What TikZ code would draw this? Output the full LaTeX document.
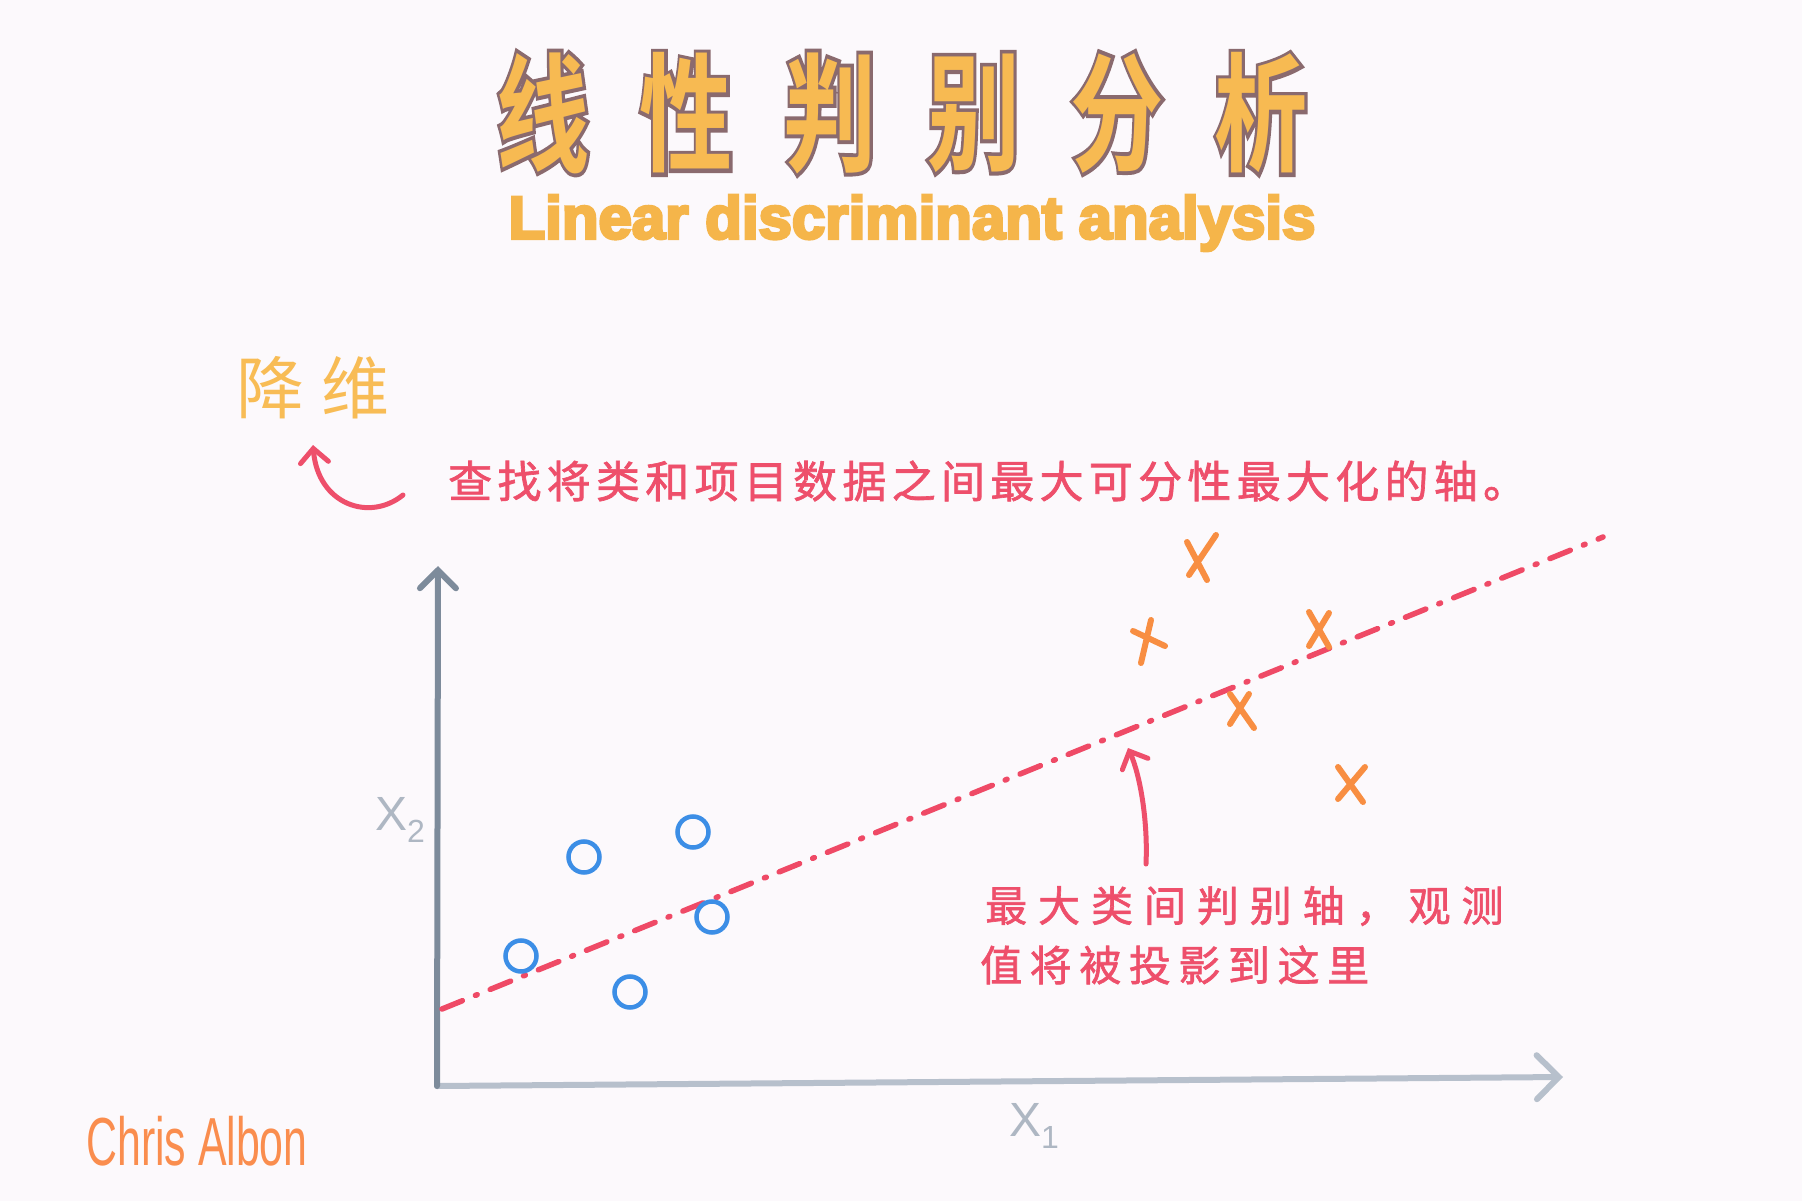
\documentclass[tikz,border=0pt]{standalone}
\usepackage{fontspec}
\setmainfont{Liberation Sans}
\newfontfamily\cjk{Noto Sans CJK SC}
\newfontfamily\cjkr{Noto Sans CJK SC}[RawFeature={embolden=1.5}]
\newfontfamily\titlefill{Noto Sans CJK SC Bold}
\newfontfamily\titleline{Noto Sans CJK SC Bold}[RawFeature={embolden=6}]
\newfontfamily\subfont{Liberation Sans Bold}[RawFeature={embolden=5}]
\usetikzlibrary{arrows.meta}
\definecolor{bgc}{HTML}{FCF9FC}
\definecolor{titlefillc}{HTML}{F7BA52}
\definecolor{titlelinec}{HTML}{8A6A6E}
\definecolor{subc}{HTML}{F5B54A}
\definecolor{dimc}{HTML}{F8BC55}
\definecolor{redc}{HTML}{EE4F6B}
\definecolor{linec}{HTML}{EF4A66}
\definecolor{bluec}{HTML}{3C8EE6}
\definecolor{orangec}{HTML}{F88E42}
\definecolor{axisv}{HTML}{7D8B9B}
\definecolor{axish}{HTML}{B7C0CC}
\definecolor{labc}{HTML}{AEB7C3}
\definecolor{signc}{HTML}{FA8D4E}
\tikzset{
  titleout/.style={inner sep=0pt, text=titlelinec, font=\titleline\fontsize{126}{130}\selectfont},
  titlein/.style={inner sep=0pt, text=titlefillc, font=\titlefill\fontsize{126}{130}\selectfont},
  redtxt/.style={inner sep=0pt, text=redc, anchor=west},
  redarrow/.style={draw=redc, line width=5pt, line cap=round, -{Straight Barb[length=14pt,width=28pt,line cap=round]}},
  axisv/.style={draw=axisv, line width=6pt, line cap=round, -{Straight Barb[length=18pt,width=36pt,line cap=round]}},
  axish/.style={draw=axish, line width=6pt, line cap=round, -{Straight Barb[length=22pt,width=44pt,line cap=round]}},
  ldaline/.style={draw=linec, line width=5.5pt, line cap=round, dash pattern=on 22pt off 14pt on 2pt off 14pt},
  circ/.style={circle, draw=bluec, line width=4.5pt, minimum size=31pt, inner sep=0pt},
  xmark/.style={draw=orangec, line width=6pt, line cap=round},
  axlab/.style={inner sep=0pt, text=labc, font=\fontsize{48}{52}\selectfont}
}
\begin{document}
\begin{tikzpicture}[x=1pt,y=-1pt]
\fill[bgc] (0,0) rectangle (1802,1201);
\useasboundingbox (0,0) rectangle (1802,1201);
% title
\foreach \c [count=\i from 0] in {线,性,判,别,分,析}{
  \node[titleout] (to\i) at (543+143.6*\i,113) {\scalebox{0.74}[1.02]{\c}};
  \node[titlein] (t\i) at (543+143.6*\i,113) {\scalebox{0.74}[1.02]{\c}};
}
\node[inner sep=0pt, text=subc, font=\subfont\fontsize{60}{64}\selectfont] (sub) at (912,223) {Linear discriminant analysis};
% dimensionality reduction
\node[inner sep=0pt, text=dimc, font=\cjk\fontsize{68}{72}\selectfont] (dim) at (313,388) {\addfontfeature{LetterSpace=25}降维};
\node[redtxt, font=\cjkr\fontsize{44}{48}\selectfont] (desc) at (448,481) {\addfontfeature{LetterSpace=12}查找将类和项目数据之间最大可分性最大化的轴。};
\coordinate (a1s) at (403,495);
\coordinate (a1e) at (313,445);
\draw[redarrow] (a1s) .. controls (370,522) and (318,505) .. (a1e);
% axes
\coordinate (O) at (437,1086);
\coordinate (ytip) at (438,566);
\coordinate (xtip) at (1563,1077);
\draw[axish] (O) -- (xtip);
\draw[axisv] (O) -- (ytip);
\node[axlab] (x2) at (400,820) {X\raisebox{-0.45ex}{\fontsize{32}{32}\selectfont 2}};
\node[axlab] (x1) at (1034,1126) {X\raisebox{-0.45ex}{\fontsize{32}{32}\selectfont 1}};
% LDA axis
\coordinate (L0) at (442,1009);
\coordinate (L1) at (1603,537);
\draw[ldaline] (L0) -- (L1);
% class 1
\node[circ] (c1) at (584,857) {};
\node[circ] (c2) at (693,832) {};
\node[circ] (c3) at (521,956) {};
\node[circ] (c4) at (712,917) {};
\node[circ] (c5) at (630,992) {};
% class 2
\draw[xmark] (1187,542) -- (1207,580) (1216,535) -- (1189,575);
\draw[xmark] (1151,620) -- (1141,663) (1133,631) -- (1165,646);
\draw[xmark] (1309,612) -- (1329,647) (1329,613) -- (1309,646);
\draw[xmark] (1230,694) -- (1254,728) (1249,694) -- (1230,724);
\draw[xmark] (1338,767) -- (1363,802) (1365,767) -- (1338,799);
% annotation
\node[redtxt, font=\cjkr\fontsize{42}{46}\selectfont] (ann1) at (985,906) {\addfontfeature{LetterSpace=26}最大类间判别轴，观测};
\node[redtxt, font=\cjkr\fontsize{42}{46}\selectfont] (ann2) at (980,965) {\addfontfeature{LetterSpace=18}值将被投影到这里};
\coordinate (a2s) at (1146,864);
\coordinate (a2e) at (1128,748);
\draw[redarrow] (a2s) .. controls (1148,820) and (1140,775) .. (a2e);
% signature
\node[inner sep=0pt, text=signc, font=\fontsize{68}{72}\selectfont] (sign) at (197,1141) {\scalebox{0.63}[1]{Chris Albon}};
\end{tikzpicture}
\end{document}
